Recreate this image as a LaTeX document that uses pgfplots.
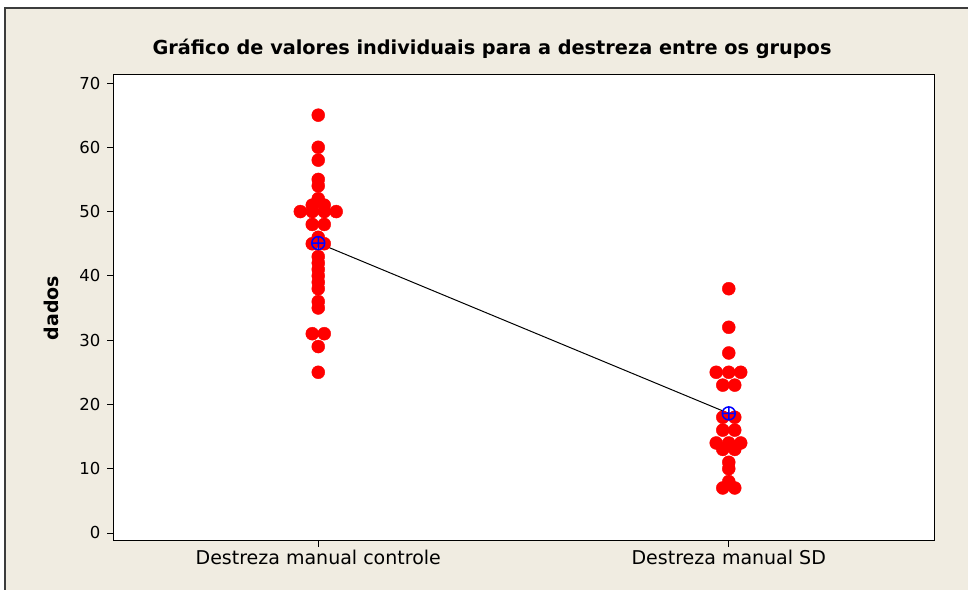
\documentclass[border=0pt]{standalone}
\usepackage{fontspec}
\setmainfont{DejaVu Sans}
\usepackage{pgfplots}
\pgfplotsset{compat=1.18}
\definecolor{bg}{RGB}{240,236,225}
\definecolor{framec}{RGB}{60,60,60}
\begin{document}
\begin{tikzpicture}[x=1bp,y=1bp]
\useasboundingbox (0,0) rectangle (968,590);
\fill[white] (0,0) rectangle (968,590);
\fill[bg] (5,0) rectangle (968,582);
\draw[framec, line width=1.3bp] (5,0) -- (5,582) -- (968,582);
\node[font=\bfseries\fontsize{19.3bp}{22bp}\selectfont] at (492,541) {Gráfico de valores individuais para a destreza entre os grupos};
\begin{axis}[
  at={(113bp,49bp)}, anchor=south west,
  width=821bp, height=466bp, scale only axis,
  xmin=0.5, xmax=2.5, ymin=-1.25, ymax=71.25,
  axis background/.style={fill=white},
  axis line style={line width=1bp},
  xtick={1,2},
  xticklabels={Destreza manual controle, Destreza manual SD},
  ytick={0,10,20,30,40,50,60,70},
  tick align=outside, tick pos=left,
  major tick length=6bp,
  tick style={black, line width=0.8bp},
  /pgf/number format/assume math mode=true,
  yticklabel style={font=\fontsize{16.5bp}{19bp}\selectfont, xshift=-3bp},
  xticklabel style={font=\fontsize{19bp}{22bp}\selectfont},
  ylabel={\bfseries dados},
  ylabel style={font=\fontsize{19bp}{22bp}\selectfont, at={(axis description cs:-0.0755,0.5)}, anchor=center},
  clip=false,
]
% controle
\addplot[red, only marks, mark=*, mark size=6.5bp, mark options={draw=red, fill=red}]
coordinates {
(1,65)(1,60)(1,58)(1,55)(1,54)(1,52)
(0.9854,51)(1.0146,51)
(0.9563,50)(0.9854,50)(1.0146,50)(1.0437,50)
(0.9854,48)(1.0146,48)
(1,46)
(0.9854,45)(1.0146,45)
(1,43)(1,42)(1,41)(1,40)(1,39)(1,38)(1,36)(1,35)
(0.9854,31)(1.0146,31)
(1,29)(1,25)
};
% SD
\addplot[red, only marks, mark=*, mark size=6.5bp, mark options={draw=red, fill=red}]
coordinates {
(2,38)(2,32)(2,28)
(1.9694,25)(2,25)(2.0291,25)
(1.9854,23)(2.0146,23)
(1.9854,18)(2.0146,18)
(1.9854,16)(2.0146,16)
(1.9694,14)(2,14)(2.0291,14)
(1.9854,13)(2.0146,13)
(2,11)(2,10)(2,8)
(1.9854,7)(2.0146,7)
};
% means
\addplot[black, line width=1bp, mark=oplus, mark size=6.5bp,
  mark options={draw=blue, fill=red, line width=1.5bp}]
coordinates {(1,45.1)(2,18.6)};
\end{axis}
\end{tikzpicture}
\end{document}
